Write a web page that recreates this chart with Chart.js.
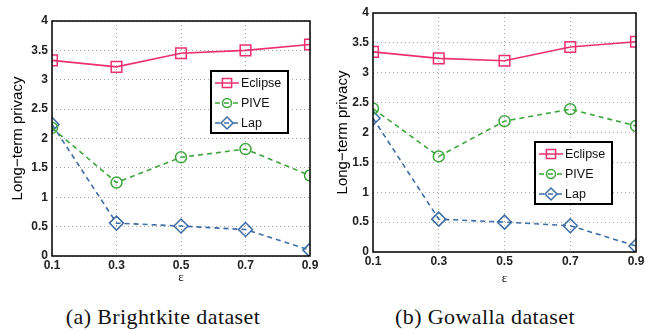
<!DOCTYPE html>
<html>
<head>
<meta charset="utf-8">
<script src="https://cdn.jsdelivr.net/npm/chart.js@4.4.1/dist/chart.umd.min.js"></script>
<style>
  html, body { margin: 0; padding: 0; background: #fff; }
  #wrap { position: relative; width: 653px; height: 333px; overflow: hidden; }
  .box { position: absolute; top: 0; height: 285px; }
  .cap { position: absolute; top: 306px; line-height: 22px; font-family: 'Liberation Serif', 'DejaVu Serif', serif; font-size: 22px; letter-spacing: 0.4px; color: #111; white-space: nowrap; transform: translateX(-50%); }
</style>
</head>
<body>
<div id="wrap">
  <div class="box" style="left:0;width:326px"><canvas id="chart-a"></canvas></div>
  <div class="box" style="left:330px;width:323px"><canvas id="chart-b"></canvas></div>
  <div class="cap" style="left:163px">(a) Brightkite dataset</div>
  <div class="cap" style="left:485px">(b) Gowalla dataset</div>
</div>
<script>
/* ─── data ─── */
const epsilon = [0.1, 0.3, 0.5, 0.7, 0.9];
const seriesNames = ['Eclipse', 'PIVE', 'Lap'];

const brightkiteEclipse = [3.33, 3.22, 3.45, 3.50, 3.60];
const brightkitePive = [2.18, 1.25, 1.68, 1.82, 1.37];
const brightkiteLap = [2.24, 0.56, 0.51, 0.45, 0.10];

const gowallaEclipse = [3.35, 3.24, 3.20, 3.43, 3.52];
const gowallaPive = [2.40, 1.60, 2.19, 2.39, 2.11];
const gowallaLap = [2.24, 0.55, 0.50, 0.44, 0.10];

const yTicks = [0, 0.5, 1, 1.5, 2, 2.5, 3, 3.5, 4];

const PINK = '#EC2F6E';
const GREEN = '#3CA63C';
const BLUE = '#3D6DA6';

Chart.defaults.font.family = "'Liberation Sans', Arial, sans-serif";
Chart.defaults.color = '#111';
Chart.defaults.animation = false;

function pts(vals) {
  return epsilon.map((x, i) => ({ x, y: vals[i] }));
}

/* frame round the plot area + legend box inside it */
const framePlugin = {
  id: 'frame',
  afterDraw(chart, args, opts) {
    const { ctx, chartArea: a } = chart;
    ctx.save();
    ctx.strokeStyle = '#000';
    ctx.lineWidth = 1.5;
    ctx.setLineDash([]);
    ctx.strokeRect(a.left, a.top, a.right - a.left, a.bottom - a.top);

    // legend
    const lx = opts.x, ly = opts.y, lw = 77, lh = 62;
    ctx.fillStyle = '#fff';
    ctx.fillRect(lx, ly, lw, lh);
    ctx.lineWidth = 2;
    ctx.strokeRect(lx, ly, lw, lh);
    chart.data.datasets.forEach((ds, i) => {
      const cy = ly + 12 + i * 20;
      ctx.strokeStyle = ds.borderColor;
      ctx.lineWidth = 1.5;
      ctx.setLineDash(ds.borderDash || []);
      ctx.beginPath();
      ctx.moveTo(lx + 4, cy);
      ctx.lineTo(lx + 28, cy);
      ctx.stroke();
      ctx.setLineDash([]);
      ctx.fillStyle = 'rgba(0,0,0,0)';
      Chart.helpers.drawPoint(ctx, {
        pointStyle: ds.pointStyle, radius: ds.pointRadius - 1, borderWidth: 1.5
      }, lx + 16, cy);
      ctx.fillStyle = '#111';
      ctx.font = "12.5px 'Liberation Sans', Arial, sans-serif";
      ctx.textBaseline = 'middle';
      ctx.fillText(ds.label, lx + 30, cy + 1);
    });
    ctx.restore();
  }
};

function makeChart(id, eclipse, pive, lap, lay) {
  const ctx = document.getElementById(id);
  return new Chart(ctx, {
    type: 'line',
    data: {
      datasets: [
        {
          label: seriesNames[0], data: pts(eclipse),
          borderColor: PINK, backgroundColor: 'rgba(0,0,0,0)', borderWidth: 1.6,
          pointStyle: 'rect', pointRadius: 7.5, pointBorderWidth: 1.5, pointBorderColor: PINK,
        },
        {
          label: seriesNames[1], data: pts(pive),
          borderColor: GREEN, backgroundColor: 'rgba(0,0,0,0)', borderWidth: 1.6, borderDash: [5, 4],
          pointStyle: 'circle', pointRadius: 5.5, pointBorderWidth: 1.5, pointBorderColor: GREEN,
        },
        {
          label: seriesNames[2], data: pts(lap),
          borderColor: BLUE, backgroundColor: 'rgba(0,0,0,0)', borderWidth: 1.6, borderDash: [5, 4],
          pointStyle: 'rectRot', pointRadius: 7, pointBorderWidth: 1.5, pointBorderColor: BLUE,
        },
      ],
    },
    options: {
      responsive: true,
      maintainAspectRatio: false,
      layout: { padding: { left: lay.padLeft, right: lay.padRight, top: lay.padTop, bottom: 0 } },
      plugins: {
        legend: { display: false },
        tooltip: { enabled: false },
        frame: { x: lay.legX, y: lay.legY },
      },
      scales: {
        x: {
          type: 'linear', min: 0.1, max: 0.9,
          afterBuildTicks: (s) => { s.ticks = epsilon.map(v => ({ value: v })); },
          afterFit: (s) => { s.height = lay.xHeight; },
          grid: { color: '#a8a8a8', lineWidth: 1, drawTicks: false },
          border: { display: false, dash: [1, 3] },
          ticks: { padding: 2, font: { size: 12, weight: 'bold' }, color: '#222', callback: (v) => v.toFixed(1) },
          title: { display: true, text: 'ε', font: { family: "'Liberation Serif', serif", size: 13 }, padding: { top: 0, bottom: lay.xTitlePad } },
        },
        y: {
          min: 0, max: 4,
          afterBuildTicks: (s) => { s.ticks = yTicks.map(v => ({ value: v })); },
          afterFit: (s) => { s.width = lay.yWidth; },
          grid: { color: '#a8a8a8', lineWidth: 1, drawTicks: false },
          border: { display: false, dash: [1, 3] },
          ticks: { padding: 4, font: { size: 12, weight: 'bold' }, color: '#222', callback: (v) => String(v) },
          title: { display: true, text: 'Long−term privacy', color: '#000', font: { size: 15 }, padding: { top: lay.yTitlePad, bottom: 0 } },
        },
      },
    },
    plugins: [framePlugin],
  });
}

makeChart('chart-a', brightkiteEclipse, brightkitePive, brightkiteLap, {
  padLeft: 0, padRight: 16, padTop: 21, xHeight: 29, yWidth: 52, yTitlePad: 9, xTitlePad: 0, legX: 211, legY: 71,
});
makeChart('chart-b', gowallaEclipse, gowallaPive, gowallaLap, {
  padLeft: 0, padRight: 17, padTop: 13, xHeight: 33, yWidth: 43, yTitlePad: 4, xTitlePad: -1, legX: 205, legY: 142,
});
</script>
</body>
</html>
